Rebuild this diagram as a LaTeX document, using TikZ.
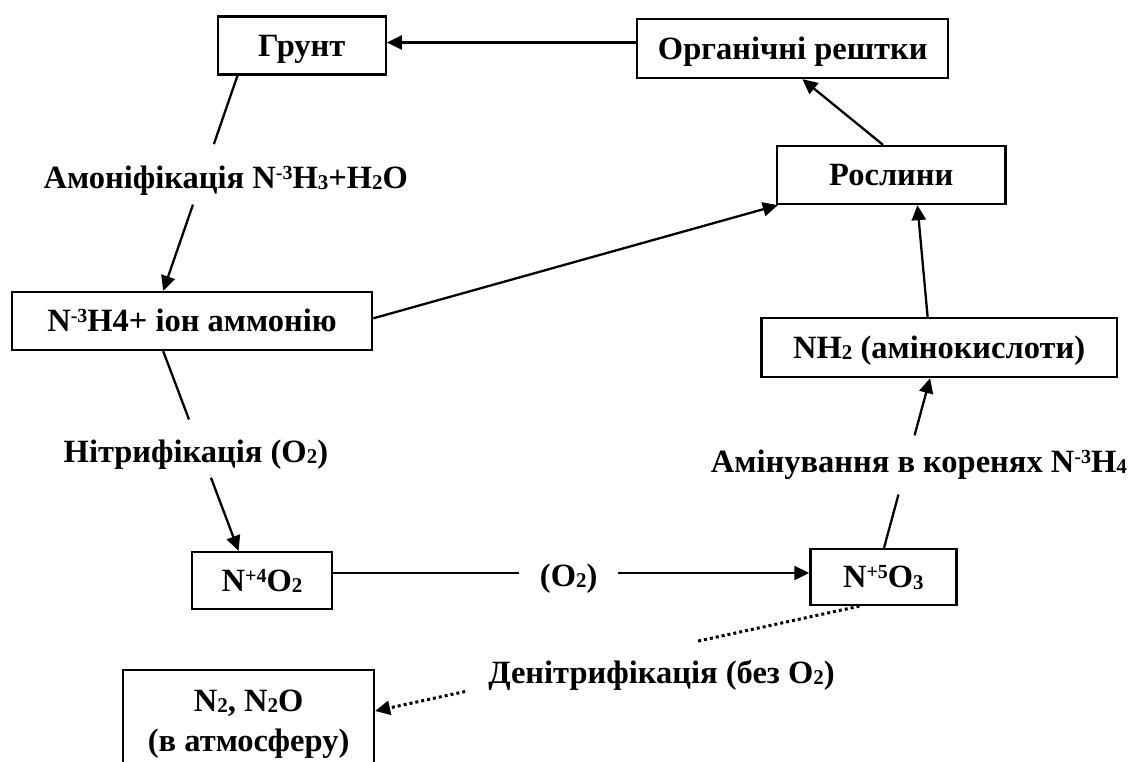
\documentclass[tikz,border=0pt]{standalone}
\usepackage{fontspec}
\setmainfont{Liberation Serif}
\usetikzlibrary{arrows.meta,calc}
% small raised / lowered figures as used in the chemical formulas
\newcommand\chup[1]{\raisebox{9pt}{\fontsize{20}{20}\selectfont #1}}
\newcommand\chdn[1]{\raisebox{-1.5pt}{\fontsize{21}{21}\selectfont #1}}
\begin{document}
\begin{tikzpicture}[x=1pt,y=-1pt,
  every node/.style={font=\fontsize{32.5}{40.7}\selectfont\bfseries},
  frame/.style={draw, line width=2.3pt, inner sep=0pt, align=center},
  box/.style={frame, text height=21.5pt, text depth=0pt},
  lbl/.style={anchor=base, inner sep=0pt},
  link/.style={line width=2.3pt},
  arr/.style={line width=2.3pt, -{Triangle[length=15pt,width=14pt]}},
  dots/.style={line width=3pt, dash pattern=on 3pt off 3pt},
  dotarr/.style={dots, -{Triangle[length=15pt,width=14pt]}}
]
\useasboundingbox (0,0) rectangle (1129,761);
\clip (0,0) rectangle (1129,761);

% boxes
\node[box, minimum width=168pt, minimum height=58pt] (grunt) at (301.7,45.6) {Грунт};
\node[box, minimum width=311pt, minimum height=59pt] (org) at (792.8,48.5) {Органічні рештки};
\node[box, minimum width=228.6pt, minimum height=58pt] (rosl) at (891.3,175) {Рослини};
\node[box, minimum width=360.3pt, minimum height=58pt] (amon) at (192,321)
  {N\chup{-3}H4+ іон аммонію};
\node[box, minimum width=355.6pt, minimum height=59pt] (amino) at (939.2,347.5)
  {NH\chdn{2} (амінокислоти)};
\node[box, minimum width=139.7pt, minimum height=57pt] (no2) at (262,580.5)
  {N\chup{+4}O\chdn{2}};
\node[box, minimum width=146pt, minimum height=56pt] (no3) at (883.4,577)
  {N\chup{+5}O\chdn{3}};
% two-line box, running off the lower edge
\node[frame, text height=62.2pt, text depth=0pt,
      minimum width=250.7pt, minimum height=101.2pt] (atm) at (248.6,720.6)
  {N\chdn{2}, N\chdn{2}O\\(в атмосферу)};

% process labels
\node[lbl] (l1) at (225.8,188) {Амоніфікація N\chup{-3}H\chdn{3}+H\chdn{2}O};
\node[lbl] (l2) at (195.9,462) {Нітрифікація (O\chdn{2})};
\node[lbl] (l3) at (568.7,586) {(O\chdn{2})};
\node[lbl] (l4) at (918.9,472) {Амінування в коренях N\chup{-3}H\chdn{4}};
\node[lbl] (l5) at (661.5,683.3) {Денітрифікація (без O\chdn{2})};

% end points of the connectors on the box edges
\coordinate (g-s) at ([xshift=20.9pt]grunt.south west);
\coordinate (a-n) at ([xshift=-28.8pt]amon.north);
\coordinate (a-s) at ([xshift=-28.8pt]amon.south);
\coordinate (n2-n) at ([xshift=-23.4pt]no2.north);
\coordinate (n2-e) at ([yshift=7.5pt]no2.east);
\coordinate (n3-w) at ([yshift=4pt]no3.west);
\coordinate (n3-n) at ([xshift=0.6pt]no3.north);
\coordinate (m-s) at ([xshift=-9.1pt]amino.south);
\coordinate (n3-s) at ([xshift=-24pt]no3.south);
\coordinate (at-e) at ([yshift=9.6pt]atm.east);

% plain connectors
\draw[arr] ([yshift=6pt]org.west) -- ([yshift=3.1pt]grunt.east);
\draw[arr] ([xshift=-8.3pt]rosl.north) -- ([xshift=9.6pt]org.south);
\draw[arr] ([yshift=2.7pt]amon.east) -- ([xshift=2pt]rosl.south west);
\draw[arr] ([xshift=-11.6pt]amino.north) -- ([xshift=26.1pt]rosl.south);

% connectors interrupted by their process label
\draw[link] (g-s) -- ($(g-s)!0.318!(a-n)$);
\draw[arr]  ($(g-s)!0.599!(a-n)$) -- (a-n);
\draw[link] (a-s) -- ($(a-s)!0.342!(n2-n)$);
\draw[arr]  ($(a-s)!0.634!(n2-n)$) -- (n2-n);
\draw[link] (n2-e) -- ($(n2-e)!0.390!(n3-w)$);
\draw[arr]  ($(n2-e)!0.598!(n3-w)$) -- (n3-w);
\draw[link] (n3-n) -- ($(n3-n)!0.314!(m-s)$);
\draw[arr]  ($(n3-n)!0.663!(m-s)$) -- (m-s);
\draw[dots] (n3-s) -- ($(n3-s)!0.333!(at-e)$);
\draw[dotarr] ($(n3-s)!0.814!(at-e)$) -- (at-e);
\end{tikzpicture}
\end{document}
